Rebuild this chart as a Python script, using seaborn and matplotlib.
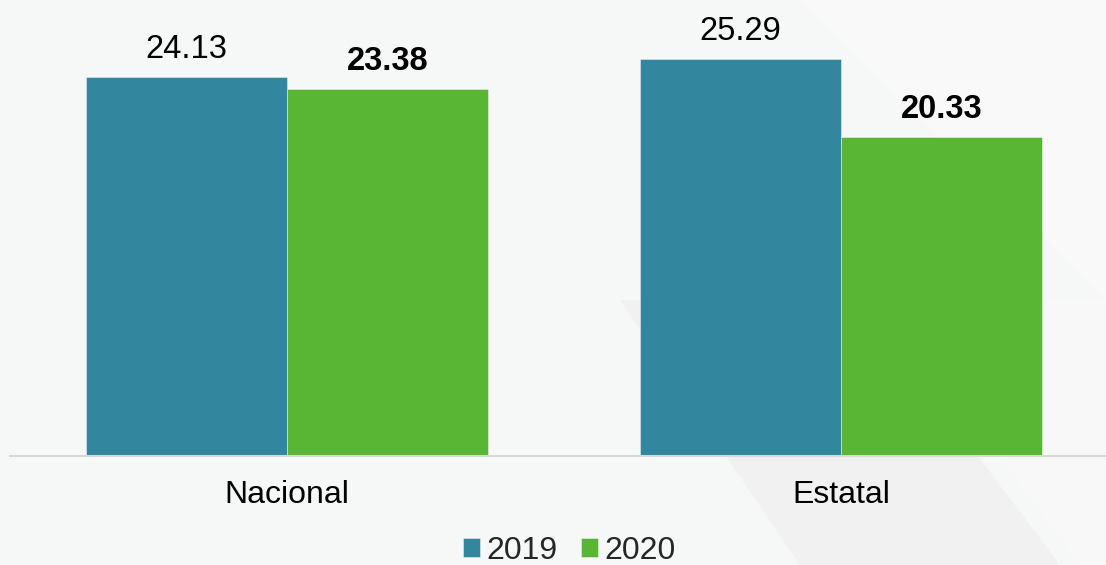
import pandas as pd
import matplotlib.pyplot as plt
import seaborn as sns
from matplotlib.patches import Polygon

# Data
categories = ['Nacional', 'Estatal']
years = ['2019', '2020']
values_2019 = [24.13, 25.29]
values_2020 = [23.38, 20.33]

colors = {'2019': '#32869e', '2020': '#59b534'}

df = pd.DataFrame({
    'region': categories * 2,
    'year': [years[0]] * len(categories) + [years[1]] * len(categories),
    'value': values_2019 + values_2020,
})

sns.set_style('white')
plt.rcParams['font.family'] = ['Liberation Sans', 'DejaVu Sans']

fig = plt.figure(figsize=(11.06, 5.65), dpi=100, facecolor='#f6f7f7')

# faint diagonal shapes in the background
bg = fig.add_axes([0, 0, 1, 1], zorder=-1)
bg.set_xlim(0, 1106)
bg.set_ylim(565, 0)
bg.axis('off')
bg.add_patch(Polygon([[0, 0], [800, 0], [1106, 300], [1106, 0]], closed=True, color='#f9f9f9', lw=0))
bg.add_patch(Polygon([[620, 300], [860, 300], [1060, 565], [800, 565]], closed=True, color='#f1f1f1', lw=0))
bg.add_patch(Polygon([[880, 300], [1106, 300], [1106, 565], [1080, 565]], closed=True, color='#f8f8f8', lw=0))

ax = fig.add_axes([10 / 1106, 109 / 565, 1 - 10 / 1106, 456 / 565])
ax.patch.set_alpha(0)

sns.barplot(data=df, x='region', y='value', hue='year', palette=colors,
            saturation=1, width=0.726, gap=0, ax=ax, legend=True,
            edgecolor='#ffffff80', linewidth=0.6)

ax.set_xlim(-0.5, 1.478)
ax.set_ylim(0, 29.03)

for container, yr in zip(ax.containers, years):
    weight = 'bold' if yr == '2020' else 'normal'
    ax.bar_label(container, labels=[f'{v:.2f}' for v in container.datavalues],
                 padding=8.5, fontsize=23.5, fontweight=weight, color='black')

ax.set_xlabel('')
ax.set_ylabel('')
ax.set_yticks([])
ax.tick_params(axis='x', length=0, pad=17, labelsize=23, colors='black')
for s in ['top', 'left', 'right']:
    ax.spines[s].set_visible(False)
ax.spines['bottom'].set_color('#d9d9d9')
ax.spines['bottom'].set_linewidth(1.5)

handles, labels = ax.get_legend_handles_labels()
ax.get_legend().remove()
fig.legend(handles, labels, loc='center', bbox_to_anchor=(569.5 / 1106, 14 / 565),
           ncol=2, frameon=False, fontsize=23, handlelength=0.53, handleheight=0.53,
           handletextpad=0.2, columnspacing=0.75, borderpad=0)

fig.savefig('out.png', dpi=100, facecolor=fig.get_facecolor())
